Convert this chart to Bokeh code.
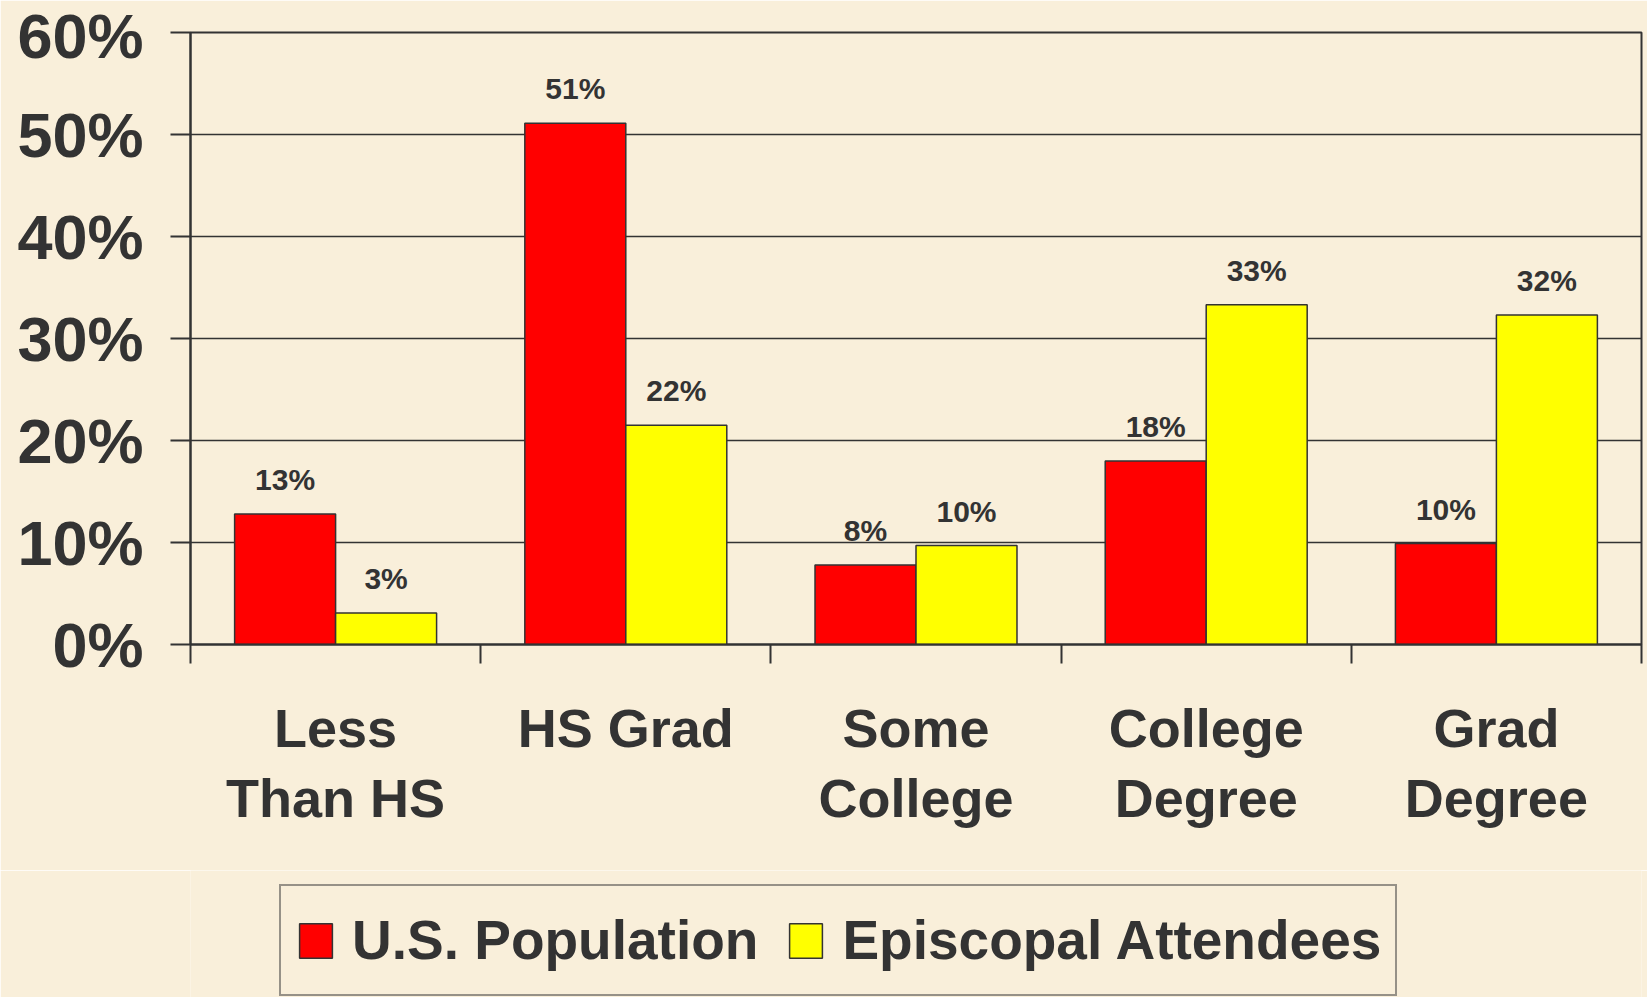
from bokeh.plotting import figure
from bokeh.layouts import column
from bokeh.models import (ColumnDataSource, Range1d, LinearAxis,
                          FixedTicker, Legend, LegendItem, Grid)
from bokeh.transform import dodge
from bokeh.core.properties import value
from bokeh.embed import file_html
from bokeh.resources import INLINE

categories = ["Less\nThan HS", "HS Grad", "Some\nCollege", "College\nDegree", "Grad\nDegree"]
us_population = [12.8, 51.1, 7.8, 18.0, 9.9]
episcopal = [3.1, 21.5, 9.7, 33.3, 32.3]
us_labels = ["13%", "51%", "8%", "18%", "10%"]
ep_labels = ["3%", "22%", "10%", "33%", "32%"]
y_ticks = [0, 10, 20, 30, 40, 50, 60]
series_names = ["U.S. Population", "Episcopal Attendees"]
series_colors = ["#ff0000", "#ffff00"]

BG = "#f9efda"
INK = "#333333"
FONT = "Liberation Sans"

n = len(categories)
centers = [i + 0.5 for i in range(n)]
boundaries = list(range(n + 1))
src = ColumnDataSource(dict(pos=centers, cat=categories, us=us_population, ep=episcopal,
                            usl=us_labels, epl=ep_labels))

W = 1647
H1 = 870
H2 = 997 - H1

p = figure(x_range=Range1d(0, n), y_range=Range1d(0, 60),
           width=W, height=H1, output_backend="svg", toolbar_location=None,
           x_axis_location=None, y_axis_location=None,
           min_border_left=190, min_border_right=6, min_border_top=32,
           min_border_bottom=H1 - 644)
p.background_fill_color = BG
p.border_fill_color = BG
p.outline_line_color = INK
p.outline_line_width = 2
for g in p.grid:
    g.visible = False

# y axis
yaxis = LinearAxis(ticker=FixedTicker(ticks=y_ticks),
                   major_label_overrides={t: f"{t}%" for t in y_ticks})
yaxis.axis_line_color = INK
yaxis.axis_line_width = 2
yaxis.major_tick_line_color = INK
yaxis.major_tick_line_width = 2
yaxis.major_tick_out = 20
yaxis.major_tick_in = 0
yaxis.minor_tick_line_color = None
yaxis.major_label_standoff = 27
yaxis.major_label_text_font = FONT
yaxis.major_label_text_font_size = "63px"
yaxis.major_label_text_font_style = "bold"
yaxis.major_label_text_color = INK
p.add_layout(yaxis, "left")

p.add_layout(Grid(dimension=1, ticker=FixedTicker(ticks=y_ticks),
                  grid_line_color=INK, grid_line_width=1.5))

# category axis: labels at centres, tick marks at category boundaries
xaxis = LinearAxis(ticker=FixedTicker(ticks=centers, minor_ticks=boundaries),
                   major_label_overrides={c: lab for c, lab in zip(centers, categories)})
xaxis.axis_line_color = INK
xaxis.axis_line_width = 2
xaxis.major_tick_line_color = None
xaxis.major_tick_out = 19
xaxis.major_tick_in = 0
xaxis.minor_tick_line_color = INK
xaxis.minor_tick_line_width = 2
xaxis.minor_tick_out = 19
xaxis.minor_tick_in = 0
xaxis.major_label_standoff = 34
xaxis.major_label_text_font = FONT
xaxis.major_label_text_font_size = "54px"
xaxis.major_label_text_font_style = "bold"
xaxis.major_label_text_color = INK
xaxis.major_label_text_line_height = 1.17
p.add_layout(xaxis, "below")

offsets = [-0.174, 0.174]
for off, col, colr in zip(offsets, ["us", "ep"], series_colors):
    p.vbar(x=dodge("pos", off), top=col, width=0.348, source=src,
           fill_color=colr, line_color=INK, line_width=1.5)

for off, col, lab in zip(offsets, ["us", "ep"], ["usl", "epl"]):
    p.text(x=dodge("pos", off), y=col, text=lab, source=src,
           text_font=value(FONT), text_font_style="bold", text_font_size="30px",
           text_color=INK, text_align="center", text_baseline="bottom", y_offset=-18)

# legend strip below the chart (its key renderers have zero width and lie outside the view)
q = figure(width=W, height=H2, output_backend="svg", toolbar_location=None,
           x_axis_location=None, y_axis_location=None,
           x_range=Range1d(0, n), y_range=Range1d(100, 101),
           min_border_left=190, min_border_right=6, min_border_top=0, min_border_bottom=0)
q.background_fill_color = BG
q.border_fill_color = BG
q.outline_line_color = None
for g in q.grid:
    g.visible = False
items = []
for off, col, name, colr in zip(offsets, ["us", "ep"], series_names, series_colors):
    r = q.vbar(x=dodge("pos", off), top=col, width=0, source=src,
               fill_color=colr, line_color=INK, line_width=1.5)
    items.append(LegendItem(label=name, renderers=[r]))

PAD = 14
LH = 80
legend = Legend(items=items, orientation="horizontal",
                location=(279 - 190, H2 - 18 - (2 * PAD + LH)))
legend.label_text_font = FONT
legend.label_text_font_size = "55px"
legend.label_text_font_style = "bold"
legend.label_text_color = INK
legend.glyph_width = 41
legend.glyph_height = 43
legend.label_standoff = 16
legend.spacing = 27
legend.padding = PAD
legend.label_height = LH
legend.margin = 0
legend.border_line_color = INK
legend.border_line_width = 2
legend.background_fill_alpha = 0
q.add_layout(legend, "center")

layout = column(p, q, spacing=0)
open("out.html", "w").write(file_html(layout, INLINE))
